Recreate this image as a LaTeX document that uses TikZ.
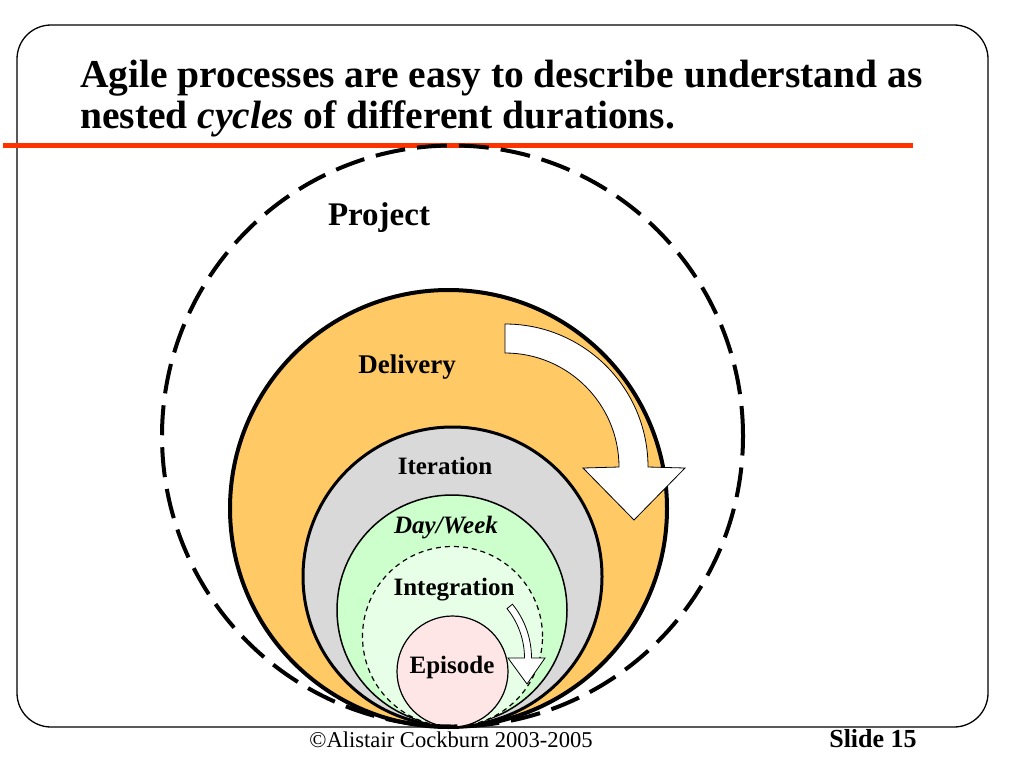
\documentclass[tikz,border=0pt]{standalone}
\usepackage{fontspec}
\setmainfont{Liberation Serif}
\definecolor{deliv}{HTML}{FFC966}
\definecolor{iter}{HTML}{D9D9D9}
\definecolor{dayw}{HTML}{CCFFCC}
\definecolor{integ}{HTML}{E6FFE6}
\definecolor{epis}{HTML}{FFE6E6}
\definecolor{redline}{HTML}{FF3300}
\begin{document}
\begin{tikzpicture}[x=1pt,y=1pt,
  ring/.style={circle, inner sep=0pt, outer sep=0pt, draw=black},
  lbl/.style={anchor=base, inner sep=0pt, font=\bfseries\fontsize{25}{30}\selectfont},
  titletext/.style={anchor=base west, inner sep=0pt, font=\bfseries\fontsize{39.5}{41}\selectfont},
  arrowshape/.style={draw=black, fill=white, line width=0.8pt, line join=miter}]
\useasboundingbox (0,0) rectangle (1024,-768);
% frame
\draw[line width=1.3pt, rounded corners=34pt] (17,-25) rectangle (988,-727);
% title
\node[titletext] (title1) at (80,-87) {Agile processes are easy to describe understand as};
\node[titletext] (title2) at (80,-128) {nested \textit{cycles} of different durations.};
\draw[redline, line width=5pt] (3,-145) -- (913,-145);
% nested cycles
\node[ring, minimum size=437pt, fill=deliv, line width=4pt] (delivery) at (448.5,-508.5) {};
\node[ring, minimum size=299pt, fill=iter, line width=3pt] (iteration) at (452.5,-576.5) {};
\node[ring, minimum size=230pt, fill=dayw, line width=1.5pt] (dayweek) at (452,-610) {};
\node[ring, minimum size=180pt, fill=integ, line width=1.2pt, dash pattern=on 5pt off 4pt] (integration) at (452.5,-636.5) {};
\node[ring, minimum size=111pt, fill=epis, line width=1.2pt] (episode) at (452.5,-671.5) {};
\node[ring, minimum size=581pt, line width=4pt, dash pattern=on 30pt off 12pt] (project) at (452.5,-436) {};
% cycle arrows
\draw[arrowshape] (505,-324) arc[start angle=90, end angle=0, radius=143]
  -- (685,-468) -- (634,-520) -- (583,-468) -- (619,-467)
  arc[start angle=0, end angle=90, radius=114] -- cycle;
\draw[arrowshape] ([shift={(39:85.5)}]446,-658) arc[start angle=39, end angle=0, radius=85.5]
  -- (545,-658) -- (527,-684) -- (508,-658) -- (524.5,-658)
  arc[start angle=0, end angle=39, radius=78.5] -- cycle;
% labels
\node[lbl, font=\bfseries\fontsize{33}{36}\selectfont] (projectlbl) at (379,-225) {Project};
\node[lbl, font=\bfseries\fontsize{27}{30}\selectfont] (deliverylbl) at (407,-373) {Delivery};
\node[lbl] (iterationlbl) at (445,-474) {Iteration};
\node[lbl, font=\bfseries\itshape\fontsize{25}{30}\selectfont] (dayweeklbl) at (446,-533) {Day/Week};
\node[lbl] (integrationlbl) at (454,-595) {Integration};
\node[lbl] (episodelbl) at (452,-673) {Episode};
% footer
\node[anchor=base, inner sep=0pt, font=\fontsize{22.6}{26}\selectfont] (copyright) at (451,-747) {©Alistair Cockburn 2003-2005};
\node[anchor=base, inner sep=0pt, font=\bfseries\fontsize{26}{30}\selectfont] (slidenum) at (873,-747) {Slide 15};
\end{tikzpicture}
\end{document}
